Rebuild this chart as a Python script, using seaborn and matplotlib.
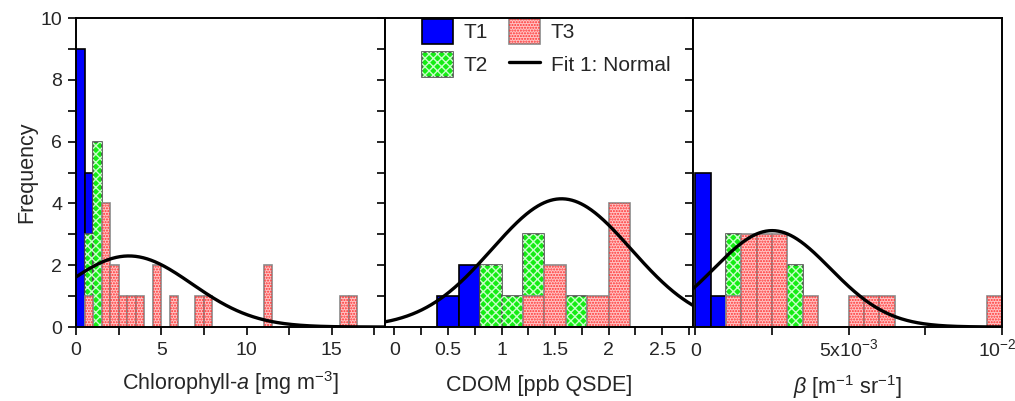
import numpy as np
import pandas as pd
import seaborn as sns
import matplotlib.pyplot as plt
from matplotlib.patches import Rectangle, Patch
from matplotlib.lines import Line2D
from matplotlib.legend_handler import HandlerTuple
from matplotlib.ticker import MultipleLocator, FixedLocator, FixedFormatter
from matplotlib.transforms import ScaledTranslation

groups = ["T1", "T2", "T3"]

# Chlorophyll-a: bin left edges and counts per group (bin width 0.5)
chl_t1_left = [0.0, 0.5]
chl_t1_n = [9, 5]
chl_t2_left = [0.5, 1.0]
chl_t2_n = [3, 6]
chl_t3_left = [0.5, 1.5, 2.0, 2.5, 3.0, 3.5, 4.5, 5.5, 7.0, 7.5, 11.0, 15.5, 16.0]
chl_t3_n = [1, 4, 2, 1, 1, 1, 2, 1, 1, 1, 2, 1, 1]

# CDOM (bin width 0.2)
cdom_t1_left = [0.4, 0.6]
cdom_t1_n = [1, 2]
cdom_t2_left = [0.8, 1.0, 1.2, 1.6]
cdom_t2_n = [2, 1, 3, 1]
cdom_t3_left = [1.2, 1.4, 1.8, 2.0]
cdom_t3_n = [1, 2, 1, 4]

# beta (bin width 0.0005)
beta_t1_left = [0.0, 0.0005]
beta_t1_n = [5, 1]
beta_t2_left = [0.001, 0.003]
beta_t2_n = [3, 2]
beta_t3_left = [0.001, 0.0015, 0.002, 0.0025, 0.0035, 0.005, 0.0055, 0.006, 0.0095]
beta_t3_n = [1, 3, 3, 3, 1, 1, 1, 1, 1]

# normal fits: mean, sd, peak height
chl_fit = (3.1, 3.7, 2.3)
cdom_fit = (1.56, 0.65, 4.15)
beta_fit = (0.0025, 0.0019, 3.12)

beta_ticks = [0, 0.005, 0.01]
beta_ticklabels = ["0", "5x10$^{-3}$", "10$^{-2}$"]

face = {"T1": "#0000ff", "T2": "#14ec14", "T3": "#ffc4c4"}
edge = {"T1": "#000000", "T2": "#505050", "T3": "#8a8a8a"}
hatch = {"T1": None, "T2": "xxxx", "T3": "......"}
hatch_col = {"T1": None, "T2": "#c8ffc8", "T3": "#ff3030"}

sns.set_theme(style="ticks")
plt.rcParams["font.family"] = ["Liberation Sans", "DejaVu Sans"]
plt.rcParams["mathtext.fontset"] = "custom"
plt.rcParams["mathtext.rm"] = "Liberation Sans"
plt.rcParams["mathtext.it"] = "Liberation Sans:italic"
plt.rcParams["hatch.linewidth"] = 1.0

fig, axes = plt.subplots(1, 3, figsize=(10.15, 4.01), dpi=100, sharey=True)
fig.subplots_adjust(left=0.0749, right=0.9872, bottom=0.1845, top=0.955, wspace=0)


def draw_panel(ax, data, width, lo, hi, fit, xlim):
    for z, g in enumerate(groups):
        left, n = data[g]
        df = pd.DataFrame({"x": np.asarray(left) + width / 2, "n": n})
        before = len(ax.patches)
        sns.histplot(df, x="x", weights="n", binwidth=width, binrange=(lo, hi), ax=ax,
                     stat="count", color=face[g], alpha=1, edgecolor=edge[g],
                     linewidth=1.2, zorder=1 + z)
        for p in list(ax.patches[before:]):
            if p.get_height() <= 0:
                p.remove()
                continue
            p.set_facecolor(face[g])
            p.set_zorder(1 + z)
            if hatch[g]:
                ax.add_patch(Rectangle((p.get_x(), 0), p.get_width(), p.get_height(),
                                       fill=False, hatch=hatch[g], edgecolor=hatch_col[g],
                                       linewidth=0, zorder=1.5 + z))
    mu, sd, peak = fit
    xs = np.linspace(xlim[0], xlim[1], 400)
    ys = peak * np.exp(-(xs - mu) ** 2 / (2 * sd ** 2))
    sns.lineplot(x=xs, y=ys, ax=ax, color="black", linewidth=2.4, zorder=6)
    ax.set_xlim(*xlim)


draw_panel(axes[0], {"T1": (chl_t1_left, chl_t1_n), "T2": (chl_t2_left, chl_t2_n),
                     "T3": (chl_t3_left, chl_t3_n)}, 0.5, 0, 17, chl_fit, (0, 18.1))
draw_panel(axes[1], {"T1": (cdom_t1_left, cdom_t1_n), "T2": (cdom_t2_left, cdom_t2_n),
                     "T3": (cdom_t3_left, cdom_t3_n)}, 0.2, 0.4, 2.2, cdom_fit, (-0.09, 2.79))
draw_panel(axes[2], {"T1": (beta_t1_left, beta_t1_n), "T2": (beta_t2_left, beta_t2_n),
                     "T3": (beta_t3_left, beta_t3_n)}, 0.0005, 0, 0.01, beta_fit, (-0.00007, 0.01))

for ax in axes:
    ax.set_ylim(0, 10)
    ax.yaxis.set_major_locator(MultipleLocator(2))
    ax.yaxis.set_minor_locator(MultipleLocator(1))
    ax.tick_params(which="both", direction="out", length=6, width=1.2, labelsize=14,
                   color="black")
    ax.tick_params(axis="x", pad=5)
    ax.tick_params(axis="y", pad=4)
    for s in ax.spines.values():
        s.set_linewidth(1.4)
        s.set_color("black")
        s.set_zorder(7)
    ax.set_ylabel("")

axes[0].set_ylabel("Frequency", fontsize=15.5, labelpad=2)
axes[0].xaxis.set_major_locator(MultipleLocator(5))
axes[0].xaxis.set_minor_locator(MultipleLocator(2.5))
axes[1].xaxis.set_major_locator(FixedLocator([0, 0.5, 1, 1.5, 2, 2.5]))
axes[1].xaxis.set_major_formatter(FixedFormatter(["0", "0.5", "1", "1.5", "2", "2.5"]))
axes[1].xaxis.set_minor_locator(MultipleLocator(0.25))

# beta axis: labels with superscripts, aligned on their baseline like the others
axes[2].xaxis.set_major_locator(FixedLocator(beta_ticks))
axes[2].xaxis.set_major_formatter(FixedFormatter(beta_ticklabels))
axes[2].xaxis.set_minor_locator(FixedLocator([0.0025, 0.0075]))
axes[2].tick_params(axis="x", which="major", pad=15)
for i, lab in enumerate(axes[2].xaxis.get_majorticklabels()):
    lab.set_verticalalignment("baseline")
    if i == len(beta_ticks) - 1:
        lab.set_transform(lab.get_transform() + ScaledTranslation(-5 / 100, 0, fig.dpi_scale_trans))

axes[0].set_xlabel("Chlorophyll-$a$ [mg m$^{-3}$]", fontsize=15.5, labelpad=7)
axes[1].set_xlabel("CDOM [ppb QSDE]", fontsize=15.5, labelpad=11)
axes[2].set_xlabel(r"$\beta$ [m$^{-1}$ sr$^{-1}$]", fontsize=15.5, labelpad=9)

handles = []
for g in groups:
    base = Patch(facecolor=face[g], edgecolor=edge[g], linewidth=1.2)
    if hatch[g]:
        handles.append((base, Patch(fill=False, hatch=hatch[g], edgecolor=hatch_col[g], linewidth=0)))
    else:
        handles.append(base)
handles.append(Line2D([], [], color="black", linewidth=2.4))
labels = groups + ["Fit 1: Normal"]
axes[1].legend(handles, labels, ncol=2, loc="upper left", bbox_to_anchor=(0.118, 1.0),
               frameon=False, fontsize=15, handlelength=1.5, handleheight=1.45,
               handletextpad=0.5, columnspacing=1.0, labelspacing=0.4,
               borderaxespad=0, borderpad=0.05,
               handler_map={tuple: HandlerTuple(ndivide=1, pad=0)})

fig.savefig("out.png", dpi=100)
